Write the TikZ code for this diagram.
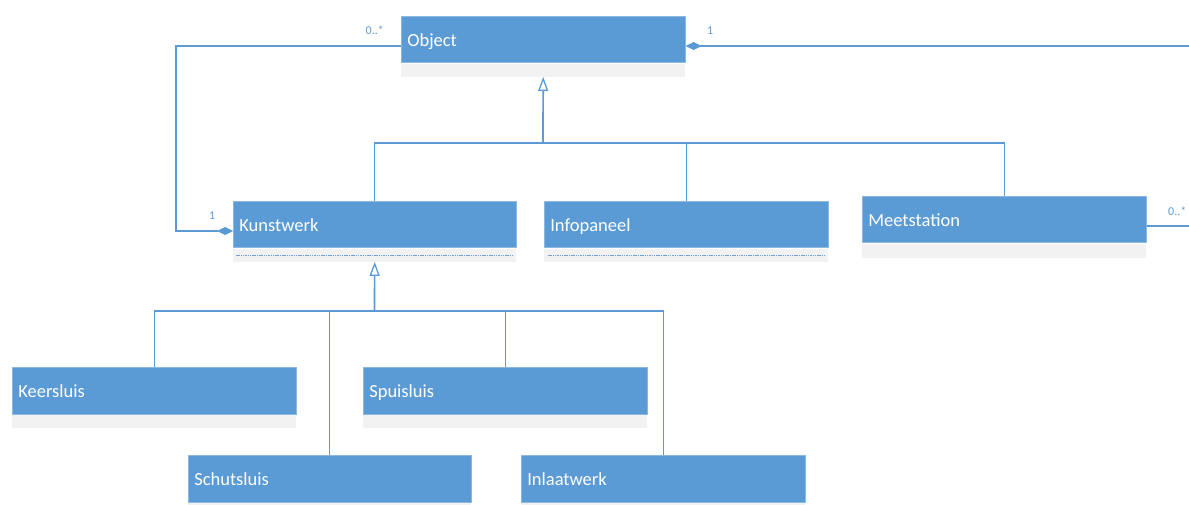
\documentclass[tikz,border=0pt]{standalone}
\usepackage{fontspec}
\setmainfont{Carlito}
\usetikzlibrary{arrows.meta,calc}
\definecolor{ublue}{HTML}{5B9BD5}
\definecolor{ugray}{HTML}{F2F2F2}
\definecolor{udot}{HTML}{6E9FD6}
\begin{document}
\begin{tikzpicture}[x=1pt,y=-1pt,
  hdr/.style={fill=ublue, draw=ublue!70!white, line width=0.6pt, text=white,
    anchor=north west, inner xsep=6pt, inner ysep=0pt, align=left,
    text height=15pt, text depth=1.5pt,
    font=\fontsize{18.5}{21}\selectfont},
  cmp/.style={fill=ugray, anchor=north west, inner sep=0pt},
  lnk/.style={draw=ublue, line width=1.2pt},
  trunk/.style={draw=ublue, line width=1.7pt},
  gen/.style={-{Triangle[open,length=14pt,width=10pt,line width=1.3pt]}},
  comp/.style={-{Diamond[length=16pt,width=8pt]}},
  mult/.style={text=ublue, font=\fontsize{12}{14}\selectfont, inner sep=0pt},
  sep/.style={draw=udot, line width=1pt, dash pattern=on 1.5pt off 0.8pt}]
\useasboundingbox (0,0) rectangle (1189,505);

% class headers
\node[hdr, text width=272pt, minimum height=46pt] (obj) at (401,16) {Object};
\node[hdr, text width=271pt, minimum height=46pt] (kw)  at (233,201) {Kunstwerk};
\node[hdr, text width=272pt, minimum height=46pt] (ip)  at (544,201) {Infopaneel};
\node[hdr, text width=272pt, minimum height=46pt] (ms)  at (862,196) {Meetstation};
\node[hdr, text width=272pt, minimum height=47pt] (ks)  at (12,367)  {Keersluis};
\node[hdr, text width=272pt, minimum height=47pt] (sp)  at (363,367) {Spuisluis};
\node[hdr, text width=271pt, minimum height=47pt] (sc)  at (188,455) {Schutsluis};
\node[hdr, text width=272pt, minimum height=47pt] (il)  at (521,455) {Inlaatwerk};

% attribute compartments
\node[cmp, minimum width=284pt, minimum height=13pt] (objc) at (401,63.5) {};
\node[cmp, minimum width=283pt, minimum height=13pt] (kwc)  at (233,248.5) {};
\node[cmp, minimum width=284pt, minimum height=13pt] (ipc)  at (544,248.5) {};
\node[cmp, minimum width=284pt, minimum height=14pt] (msc)  at (862,243.5) {};
\node[cmp, minimum width=284pt, minimum height=13pt] (ksc)  at (12,415) {};
\node[cmp, minimum width=284pt, minimum height=13pt] (spc)  at (363,415) {};
\node[cmp, minimum width=283pt, minimum height=2pt]  (scc)  at (188,503) {};
\node[cmp, minimum width=284pt, minimum height=2pt]  (ilc)  at (521,503) {};

% dotted separators
\draw[sep] ($(kwc.west)+(3,0.5)$) -- ($(kwc.east)+(-3,0.5)$);
\draw[sep] ($(ipc.west)+(4,0)$) -- ($(ipc.east)+(-4,0)$);

% generalisation to Object
\coordinate (j1) at (543,143);
\draw[lnk] (kw.north) |- (j1);
\draw[lnk] (ip.north) |- (j1);
\draw[lnk] (ms.north) |- (j1);
\draw[trunk, gen] (j1) -- (objc.south);

% generalisation to Kunstwerk
\coordinate (j2) at (374.5,311);
\draw[lnk] (ks.north) |- (j2);
\draw[lnk] (sc.north) |- (j2);
\draw[lnk] (sp.north) |- (j2);
\draw[lnk] (il.north) |- (j2);
\draw[trunk, gen] (j2) -- (kwc.south);

% association Object -- Kunstwerk
\coordinate (objL) at ($(obj.north west)+(0,30)$);
\coordinate (kwL)  at ($(kw.north west)+(0,30)$);
\draw[lnk, comp] (objL) -- ++(-225,0) |- (kwL);
\node[mult, anchor=base east] (m1) at (384,35) {0..*};
\node[mult, anchor=base west] (m2) at (209,220) {1};

% association Object -- outside
\coordinate (objR) at ($(obj.north east)+(0,30)$);
\coordinate (outR) at (1189,46);
\draw[lnk, {Diamond[length=16pt,width=8pt]}-] (objR) -- (outR);
\node[mult, anchor=base west] (m3) at (707,35) {1};

% association Meetstation -- outside
\coordinate (msR) at ($(ms.north east)+(0,30)$);
\coordinate (outM) at (1189,226);
\draw[lnk] (msR) -- (outM);
\node[mult, anchor=base west] (m4) at (1168,216) {0..*};
\end{tikzpicture}
\end{document}
